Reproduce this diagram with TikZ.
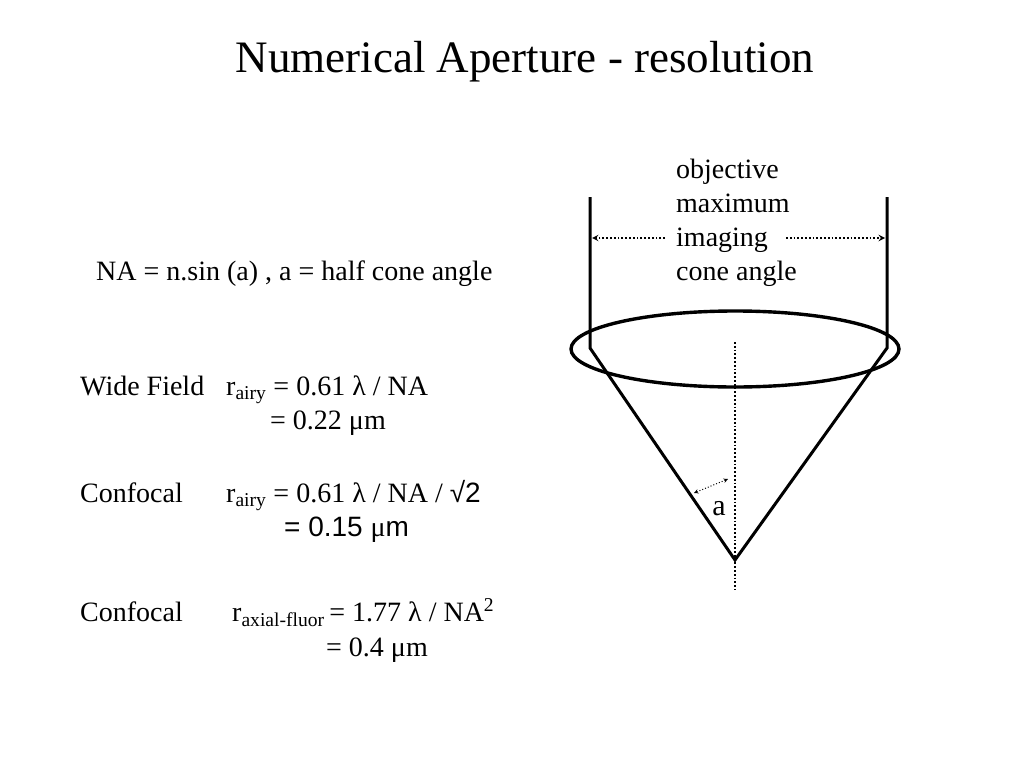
\documentclass[tikz,border=0pt]{standalone}
\usepackage{fontspec}
\setmainfont{Liberation Serif}
\newfontfamily\sansf{Liberation Sans}
\begin{document}
\begin{tikzpicture}[x=1pt,y=-1pt,
  txt/.style={anchor=base west,inner sep=0pt,font=\fontsize{28}{34}\selectfont},
  thick1/.style={line width=3pt},
  dots/.style={line width=1.8pt,dotted}]
\useasboundingbox (0,0) rectangle (1024,768);
\node[inner sep=0pt,anchor=base,font=\fontsize{45}{50}\selectfont] (title) at (525,72) {Numerical Aperture - resolution};
\node[txt] (na) at (96,280) {NA = n.sin (a) , a = half cone angle};
\node[txt] (o1) at (676,178) {objective};
\node[txt] (o2) at (676,212) {maximum};
\node[txt] (o3) at (676,246) {imaging};
\node[txt] (o4) at (676,280) {cone angle};
\node[txt] (wf) at (80,395) {Wide Field};
\node[txt] (wf1) at (226,395) {r\textsubscript{airy} = 0.61 λ / NA};
\node[txt] (wf2) at (270,429) {= 0.22 μm};
\node[txt] (cf) at (80,502) {Confocal};
\node[txt] (cf1) at (226,502) {r\textsubscript{airy} = 0.61 λ / NA / {\sansf √2}};
\node[txt] (cf2) at (284,536) {\sansf = 0.15 {\rmfamily μ}m};
\node[txt] (cx) at (80,621) {Confocal};
\node[txt] (cx1) at (232,621) {r\textsubscript{axial-fluor}\,= 1.77 λ / NA\textsuperscript{2}};
\node[txt] (cx2) at (326,656) {= 0.4 μm};
\coordinate (lt) at (590,197); \coordinate (lb) at (590,348);
\coordinate (rt) at (887,197); \coordinate (rb) at (887,348);
\coordinate (apex) at (735,560);
\draw[thick1,line join=miter] (lt) -- (lb) -- (apex) -- (rb) -- (rt);
\draw[line width=3.4pt] (735,349) ellipse [x radius=164, y radius=38];
\draw[dots] (735,342) -- (735,590);
\draw[dots,->,>=stealth] (665,238) -- (592,238);
\draw[dots,->,>=stealth] (786,238) -- (885,238);
\draw[line width=1pt,dotted,<->,>=stealth] (694,493) -- (728,479);
\node[inner sep=0pt,anchor=base,font=\fontsize{30}{34}\selectfont] (a) at (719,515) {a};
\end{tikzpicture}
\end{document}
